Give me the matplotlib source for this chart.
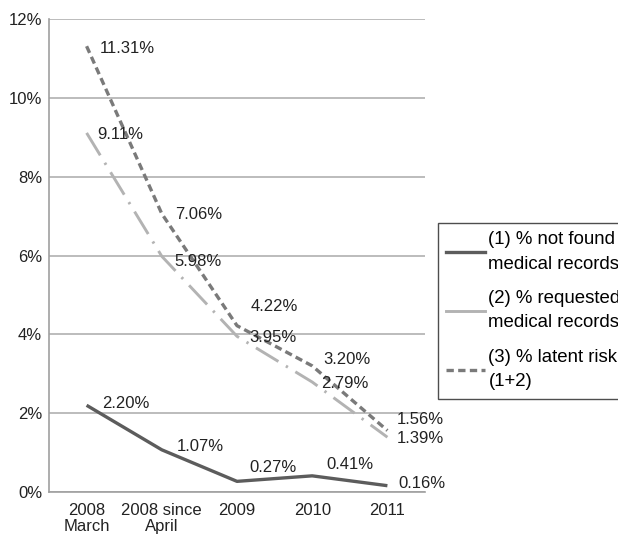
import matplotlib.pyplot as plt
from matplotlib.lines import Line2D

# ── data ──────────────────────────────────────────────────────────────
categories = ["2008\nMarch", "2008 since\nApril", "2009", "2010", "2011"]
not_found  = [2.20, 1.07, 0.27, 0.41, 0.16]
requested  = [9.11, 5.98, 3.95, 2.79, 1.39]
latent     = [11.31, 7.06, 4.22, 3.20, 1.56]
legend_labels = ["(1) % not found\nmedical records",
                 "(2) % requested\nmedical records",
                 "(3) % latent risk\n(1+2)"]

# label offsets in pixels (dx right, dy up)
off_nf  = [(16, 2), (15, 3), (12, 14), (14, 11), (11, 2)]
off_req = [(11, -2), (13, -5), (12, -1), (9, -1), (9, -1)]
off_lat = [(13, -2), (13, -1), (14, 19), (11, 6), (9, 11)]

plt.rcParams["font.family"] = ["Liberation Sans", "DejaVu Sans"]
plt.rcParams["font.size"] = 12

fig = plt.figure(figsize=(6.18, 5.34), dpi=100)
ax = fig.add_axes([49 / 618, 42 / 534, 376 / 618, 473 / 534])

x = list(range(len(categories)))
c1, c2, c3 = "#5c5c5c", "#b3b3b3", "#7a7a7a"
ax.plot(x, not_found, color=c1, lw=2.4, solid_capstyle="butt")
ax.plot(x, requested, color=c2, lw=2.1, dashes=(9, 3, 0.8, 3))
ax.plot(x, latent, color=c3, lw=2.4, dashes=(2.2, 1.3))

px = 0.72  # pixels -> points at 100 dpi
for vals, offs in [(latent, off_lat), (requested, off_req), (not_found, off_nf)]:
    for xi, v, (dx, dy) in zip(x, vals, offs):
        ax.annotate(f"{v:.2f}%", (xi, v), xytext=(dx * px, dy * px),
                    textcoords="offset points", ha="left", va="center",
                    color="#222222", annotation_clip=False)

ax.set_xlim(-0.5, 4.5)
ax.set_ylim(0, 12)
ax.set_yticks(range(0, 13, 2))
ax.set_yticklabels([f"{t}%" for t in range(0, 13, 2)])
ax.set_xticks(x)
ax.set_xticklabels(categories, linespacing=1.1)
ax.tick_params(axis="x", length=0, pad=8, colors="#222222")
ax.tick_params(axis="y", length=0, pad=5, colors="#222222")
ax.grid(axis="y", color="#b0b0b0", lw=1.2)
ax.set_axisbelow(True)
for s in ["top", "right"]:
    ax.spines[s].set_visible(False)
for s in ["left", "bottom"]:
    ax.spines[s].set_color("#a0a0a0")
    ax.spines[s].set_linewidth(1.2)

# legend runs past the right edge of the figure, as in the original
handles = [Line2D([], [], color=c1, lw=2.4),
           Line2D([], [], color=c2, lw=2.1),
           Line2D([], [], color=c3, lw=2.4, dashes=(2.2, 1.3))]
leg = fig.legend(handles, legend_labels, loc="upper left",
                 bbox_to_anchor=(438 / 618, 1 - 223 / 534),
                 frameon=True, fancybox=False, handlelength=2.1,
                 handletextpad=0.16, labelspacing=0.95, borderpad=0.45,
                 borderaxespad=0, fontsize=13.4)
for t in leg.get_texts():
    t.set_linespacing(1.55)
leg.get_frame().set_edgecolor("#222222")
leg.get_frame().set_linewidth(1.0)

fig.savefig("out.png", dpi=100)
